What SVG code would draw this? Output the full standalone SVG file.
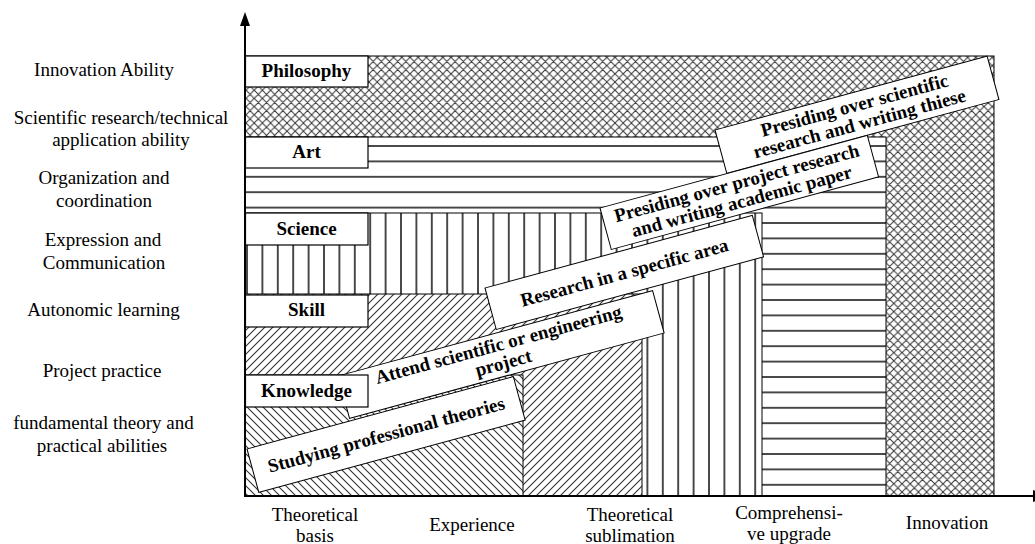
<svg xmlns="http://www.w3.org/2000/svg" width="1035" height="544" viewBox="0 0 1035 544">
<style>
.t{font-family:"Liberation Serif",serif;font-size:19px;fill:#000;text-anchor:middle}
.b{font-weight:bold}
.reg{stroke:#000;stroke-width:1}
.box{fill:#fff;stroke:#000;stroke-width:1.2}
.rbox{fill:#fff;stroke:#000;stroke-width:1}
.ax{stroke:#000;stroke-width:2;fill:none}
</style>
<defs>
<pattern id="hz" patternUnits="userSpaceOnUse" x="0" y="138.3" width="20" height="15.4">
<rect width="20" height="15.4" fill="#fff"/>
<line x1="0" y1="7.7" x2="20" y2="7.7" stroke="#111" stroke-width="1.5"/>
</pattern>
<pattern id="vt" patternUnits="userSpaceOnUse" x="239.3" y="0" width="15.4" height="20">
<rect width="15.4" height="20" fill="#fff"/>
<line x1="7.7" y1="0" x2="7.7" y2="20" stroke="#111" stroke-width="1.5"/>
</pattern>
<pattern id="fw" patternUnits="userSpaceOnUse" x="0" y="0" width="8" height="8">
<rect width="8" height="8" fill="#fff"/>
<path d="M-2,2 L2,-2 M0,8 L8,0 M6,10 L10,6" stroke="#333" stroke-width="1.1"/>
</pattern>
<pattern id="bk" patternUnits="userSpaceOnUse" x="0" y="0" width="8" height="8">
<rect width="8" height="8" fill="#fff"/>
<path d="M-2,6 L2,10 M0,0 L8,8 M6,-2 L10,2" stroke="#333" stroke-width="1.1"/>
</pattern>
<pattern id="cx" patternUnits="userSpaceOnUse" x="0" y="0" width="8.2" height="8.2">
<rect width="8.2" height="8.2" fill="#fff"/>
<path d="M-2,2 L2,-2 M0,8.2 L8.2,0 M6.2,10.2 L10.2,6.2 M-2,6.2 L2,10.2 M0,0 L8.2,8.2 M6.2,-2 L10.2,2" stroke="#333" stroke-width="1"/>
</pattern>
</defs>
<rect width="1035" height="544" fill="#fff"/>

<g id="regions">
<rect id="reg-philosophy" class="reg" x="245" y="56" width="749" height="440" fill="url(#cx)"/>
<rect id="reg-art" class="reg" x="245" y="137" width="641" height="359" fill="url(#hz)"/>
<rect id="reg-science" class="reg" x="245" y="213" width="517" height="283" fill="url(#vt)"/>
<rect id="reg-skill" class="reg" x="245" y="294" width="397" height="202" fill="url(#fw)"/>
<rect id="reg-knowledge" class="reg" x="245" y="375" width="278" height="121" fill="url(#bk)"/>
</g>

<g id="step5" transform="translate(715,130) rotate(-15.2)">
<rect class="rbox" x="0" y="0" width="282" height="45"/>
<text class="t b" x="141" y="19">Presiding over scientific</text>
<text class="t b" x="141" y="38">research and writing thiese</text>
</g>
<g id="step4" transform="translate(600,208) rotate(-15.2)">
<rect class="rbox" x="0" y="0" width="277" height="43"/>
<text class="t b" x="138.5" y="18">Presiding over project research</text>
<text class="t b" x="138.5" y="37">and writing academic paper</text>
</g>
<g id="step3" transform="translate(485,288) rotate(-15.2)">
<rect class="rbox" x="0" y="0" width="277" height="43"/>
<text class="t b" x="138.5" y="28">Research in a specific area</text>
</g>
<g id="step2" transform="translate(338,376) rotate(-15.2)">
<rect class="rbox" x="0" y="0" width="326" height="44"/>
<text class="t b" x="163" y="18">Attend scientific or engineering</text>
<text class="t b" x="163" y="37">project</text>
</g>
<g id="step1" transform="translate(247,449) rotate(-15.2)">
<rect class="rbox" x="0" y="0" width="276" height="45"/>
<text class="t b" x="138" y="29">Studying professional theories</text>
</g>

<g id="lbl-philosophy"><rect class="box" x="245.5" y="56" width="122.5" height="31"/><text class="t b" x="306.5" y="77">Philosophy</text></g>
<g id="lbl-art"><rect class="box" x="245.5" y="137" width="122.5" height="31"/><text class="t b" x="306.5" y="158">Art</text></g>
<g id="lbl-science"><rect class="box" x="245.5" y="213" width="122.5" height="32"/><text class="t b" x="306.5" y="235">Science</text></g>
<g id="lbl-skill"><rect class="box" x="245.5" y="295" width="122.5" height="32"/><text class="t b" x="306.5" y="316">Skill</text></g>
<g id="lbl-knowledge"><rect class="box" x="245.5" y="375" width="122.5" height="32"/><text class="t b" x="306.5" y="397">Knowledge</text></g>

<g id="y-labels">
<text class="t" x="104" y="76">Innovation Ability</text>
<text class="t" x="121" y="124">Scientific research/technical</text>
<text class="t" x="121" y="146">application ability</text>
<text class="t" x="104" y="184">Organization and</text>
<text class="t" x="104" y="207">coordination</text>
<text class="t" x="103" y="246">Expression and</text>
<text class="t" x="104" y="269">Communication</text>
<text class="t" x="103.5" y="316">Autonomic learning</text>
<text class="t" x="102" y="377">Project practice</text>
<text class="t" x="103.5" y="429">fundamental theory and</text>
<text class="t" x="102" y="452">practical abilities</text>
</g>

<g id="x-labels">
<text class="t" x="315" y="521">Theoretical</text>
<text class="t" x="315" y="542">basis</text>
<text class="t" x="472" y="531">Experience</text>
<text class="t" x="630" y="521">Theoretical</text>
<text class="t" x="630" y="542">sublimation</text>
<text class="t" x="789" y="519">Comprehensi-</text>
<text class="t" x="789" y="540">ve upgrade</text>
<text class="t" x="947" y="529">Innovation</text>
</g>

<g id="connectors">
<line class="ax" x1="245" y1="497" x2="245" y2="22"/>
<polygon points="245,12 240,26 250,26" fill="#000"/>
<line class="ax" x1="244" y1="496" x2="1035" y2="496"/>
<polygon points="1047,496 1033,490 1033,502" fill="#000"/>
</g>
</svg>
